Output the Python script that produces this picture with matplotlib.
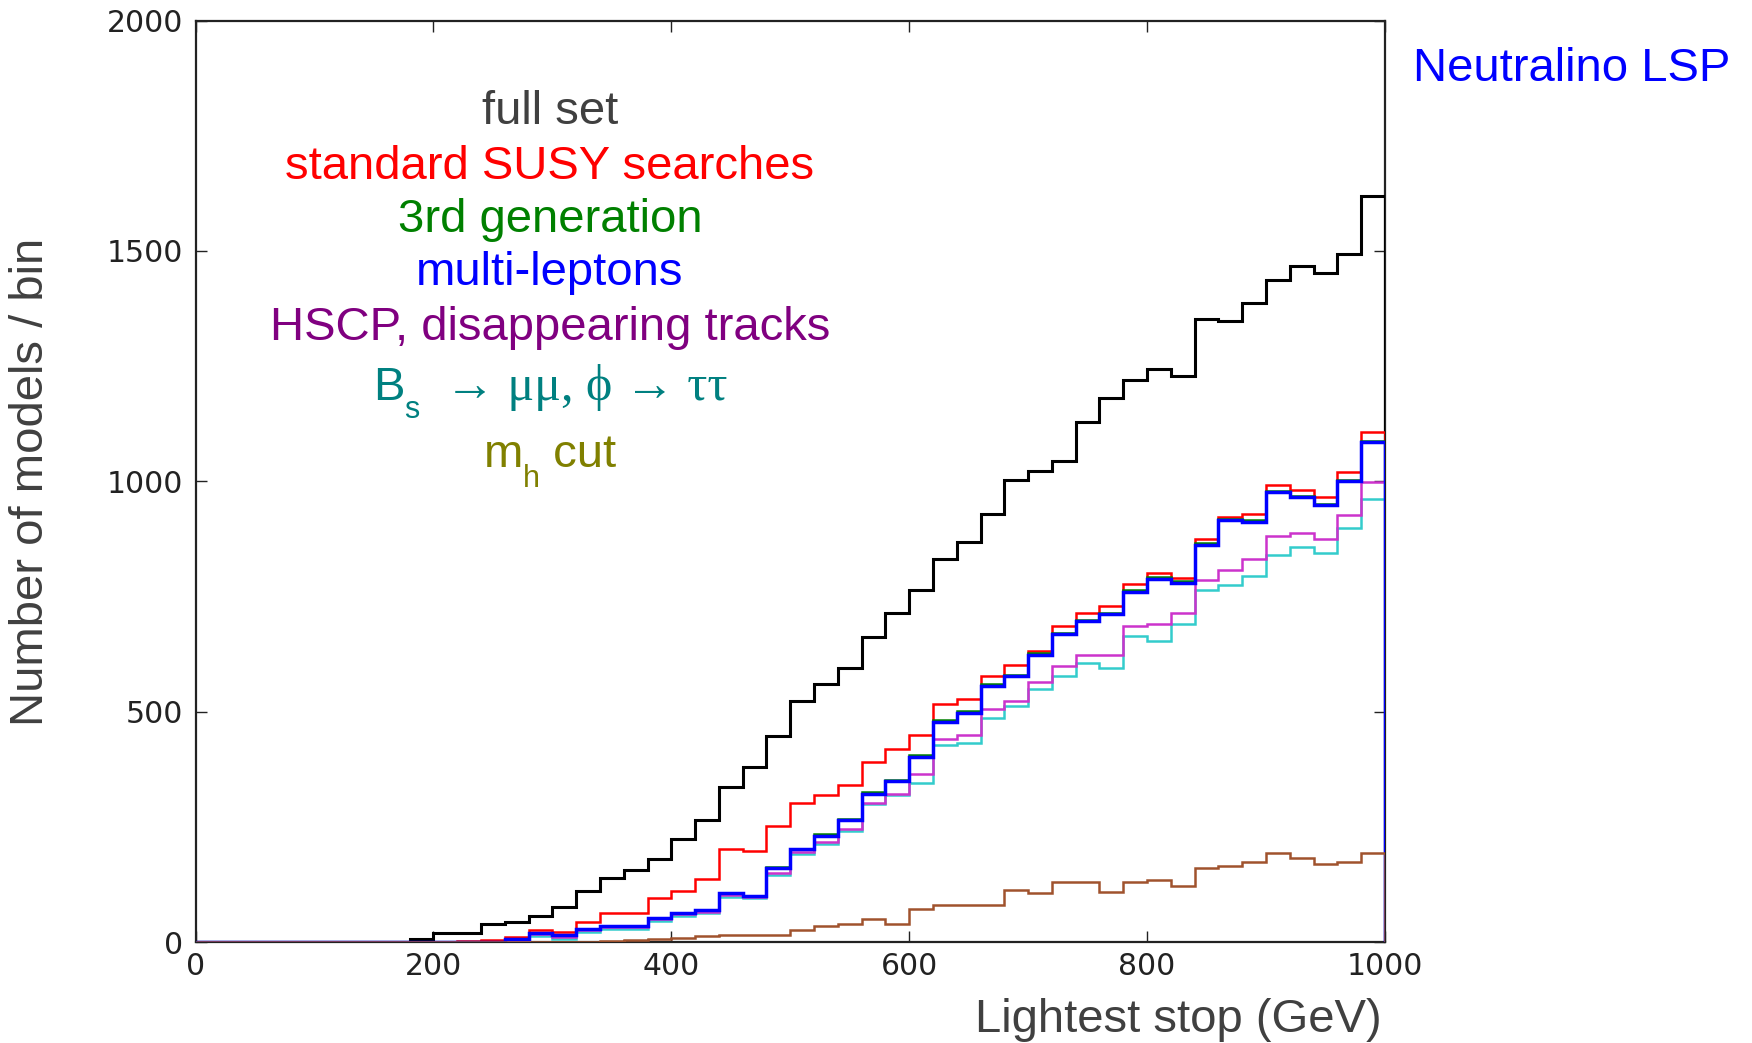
import numpy as np
import matplotlib
matplotlib.use('Agg')
import matplotlib.pyplot as plt

# 20 GeV bins from 0 to 1000 GeV
edges = np.arange(0, 1001, 20)

full_set = [0, 0, 0, 0, 0, 0, 0, 0, 0, 6,
            20, 20, 39, 44, 56, 77, 111, 138, 156, 181,
            223, 265, 337, 380, 447, 523, 559, 594, 662, 715,
            764, 831, 868, 928, 1002, 1022, 1044, 1129, 1181, 1220,
            1244, 1228, 1353, 1348, 1386, 1436, 1468, 1453, 1494, 1620]
susy = [0, 0, 0, 0, 0, 0, 0, 0, 0, 0,
        0, 3, 5, 10, 26, 21, 43, 64, 64, 95,
        111, 136, 202, 198, 252, 302, 319, 340, 391, 419,
        449, 516, 527, 577, 602, 632, 685, 715, 729, 778,
        802, 791, 874, 923, 928, 991, 982, 966, 1020, 1107]
third_gen = [0, 0, 0, 0, 0, 0, 0, 0, 0, 0,
             0, 0, 1, 6, 20, 15, 28, 35, 35, 53,
             64, 69, 106, 100, 162, 203, 234, 267, 325, 352,
             405, 482, 501, 559, 580, 627, 671, 700, 715, 764,
             792, 783, 865, 918, 916, 980, 969, 951, 1003, 1088]
multilep = [0, 0, 0, 0, 0, 0, 0, 0, 0, 0,
            0, 0, 1, 6, 20, 15, 28, 35, 35, 53,
            64, 69, 106, 100, 160, 201, 231, 264, 322, 349,
            402, 478, 498, 556, 577, 624, 668, 697, 711, 760,
            789, 780, 861, 915, 912, 977, 966, 948, 1000, 1085]
hscp = [0, 0, 0, 0, 0, 0, 0, 0, 0, 0,
        0, 0, 0, 4, 17, 12, 26, 33, 33, 49,
        61, 66, 102, 97, 150, 196, 218, 245, 301, 322,
        364, 440, 449, 505, 523, 565, 599, 622, 622, 685,
        690, 715, 785, 807, 832, 881, 887, 874, 926, 998]
bsmumu = [0, 0, 0, 0, 0, 0, 0, 0, 0, 0,
          0, 0, 0, 3, 14, 7, 22, 28, 28, 46,
          57, 62, 98, 95, 145, 191, 213, 241, 299, 319,
          346, 427, 433, 487, 512, 550, 577, 606, 595, 664,
          654, 690, 765, 774, 794, 840, 857, 845, 899, 961]
mh_cut = [0, 0, 0, 0, 0, 0, 0, 0, 0, 0,
          0, 0, 0, 0, 0, 0, 1, 2, 4, 6,
          8, 13, 15, 15, 15, 26, 35, 40, 51, 39,
          72, 80, 80, 80, 114, 107, 131, 131, 109, 131,
          134, 122, 160, 165, 173, 194, 182, 169, 173, 194]

# each label line: list of (text, fontsize, baseline shift in px, family)
sans = ['Liberation Sans', 'DejaVu Sans']
serif = ['Liberation Serif', 'DejaVu Serif']
label_lines = [
    [('full set', 34, 0, sans)],
    [('standard SUSY searches', 34, 0, sans)],
    [('3rd generation', 34, 0, sans)],
    [('multi-leptons', 34, 0, sans)],
    [('HSCP, disappearing tracks', 34, 0, sans)],
    [('B', 34, 0, sans), ('s', 22, -18, sans),
     ('  → μμ, ϕ → ττ', 36, 0, serif)],
    [('m', 34, 0, sans), ('h', 22, -20, sans), (' cut', 34, 0, sans)],
]
label_colors = ['#404040', '#ff0000', '#008000', '#0000ff',
                '#800080', '#008080', '#808000']
baselines = [124, 179, 232, 285, 340, 400, 467]

W, H = 1752, 1043
fig = plt.figure(figsize=(W / 100, H / 100), dpi=100)
ax = fig.add_axes([0.1116, 0.0968, 0.6789, 0.8835])

ax.stairs(full_set, edges, color='black', lw=2.2, zorder=3)
ax.stairs(susy, edges, color='#ff0000', lw=1.8, zorder=3)
ax.stairs(bsmumu, edges, color='#33cccc', lw=1.8, zorder=3)
ax.stairs(hscp, edges, color='#cc33cc', lw=1.8, zorder=3)
ax.stairs(third_gen, edges, color='#008000', lw=1.8, zorder=3)
ax.stairs(multilep, edges, color='#0000ff', lw=2.5, zorder=3)
ax.stairs(mh_cut, edges, color='#a0522d', lw=1.8, zorder=3)

ax.set_xlim(0, 1000)
ax.set_ylim(0, 2000)
ax.set_xticks(range(0, 1001, 200))
ax.set_yticks(range(0, 2001, 500))
ax.tick_params(direction='in', length=8, width=1.0, top=True, right=True,
               labelsize=21.5, colors='#222222')
ax.tick_params(axis='x', pad=7)
ax.tick_params(axis='y', pad=9)
for sp in ax.spines.values():
    sp.set_linewidth(1.6)
    sp.set_color('#222222')

# annotation block, each line centred on x = 550 px
renderer = fig.canvas.get_renderer()
cx = 550
for parts, col, yb in zip(label_lines, label_colors, baselines):
    widths = []
    for txt, size, dy, fam in parts:
        t = fig.text(0, 0, txt, fontsize=size, family=fam)
        widths.append(t.get_window_extent(renderer).width)
        t.remove()
    x = cx - sum(widths) / 2
    for (txt, size, dy, fam), w in zip(parts, widths):
        fig.text(x / W, 1 - (yb - dy) / H, txt, color=col, fontsize=size,
                 family=fam, ha='left', va='baseline')
        x += w

fig.text(1730 / W, 1 - 81 / H, 'Neutralino LSP', color='#0000ff',
         fontsize=34, ha='right', va='baseline', family='Liberation Sans')

fig.text(1382 / W, 1 - 1032 / H, 'Lightest stop (GeV)', color='#404040',
         fontsize=34, ha='right', va='baseline', family='Liberation Sans')
fig.text(31 / W, 1 - 482 / H, 'Number of models / bin', color='#404040',
         fontsize=34, ha='center', va='center', rotation=90,
         family='Liberation Sans')

fig.savefig('out.png', dpi=100)
